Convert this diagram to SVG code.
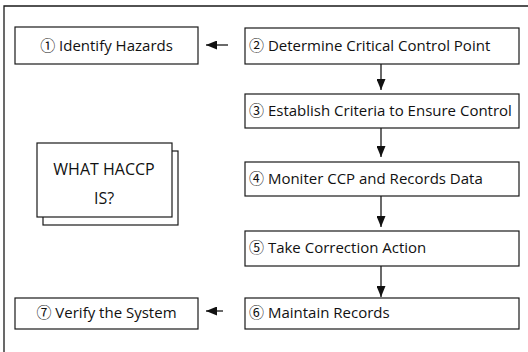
<svg xmlns="http://www.w3.org/2000/svg" width="528" height="352" viewBox="0 0 528 352">
<style>
.box{fill:#fff;stroke:#1a1a1a;stroke-width:1.2}
.t{font-family:"Open Sans","Noto Sans CJK JP",sans-serif;font-size:15px;fill:#111}
.c{text-anchor:middle}
.big{font-size:16px}
.ln{stroke:#1a1a1a;stroke-width:1.3;fill:none}
</style>
<defs>
<marker id="ah" viewBox="0 0 10 10" refX="10" refY="5" markerWidth="11" markerHeight="9" markerUnits="userSpaceOnUse" orient="auto" preserveAspectRatio="none">
<path d="M0,0 L10,5 L0,10 Z" fill="#111"/>
</marker>
</defs>
<rect width="528" height="352" fill="#fff"/>
<path class="ln" d="M4,352 V6 H528"/>
<g id="n1"><rect class="box" x="15" y="27" width="183" height="37"/><text class="t c" x="106.5" y="51">① Identify Hazards</text></g>
<g id="n2"><rect class="box" x="245" y="28" width="274" height="36"/><text class="t" x="249" y="51">② Determine Critical Control Point</text></g>
<g id="n3"><rect class="box" x="245" y="94" width="274" height="34"/><text class="t" x="249" y="116">③ Establish Criteria to Ensure Control</text></g>
<g id="n4"><rect class="box" x="245" y="162" width="274" height="34"/><text class="t" x="249" y="184">④ Moniter CCP and Records Data</text></g>
<g id="n5"><rect class="box" x="245" y="231" width="274" height="35"/><text class="t" x="249" y="253">⑤ Take Correction Action</text></g>
<g id="n6"><rect class="box" x="245" y="298" width="274" height="31"/><text class="t" x="249" y="318">⑥ Maintain Records</text></g>
<g id="n7"><rect class="box" x="15" y="298" width="183" height="31"/><text class="t c" x="106.5" y="318">⑦ Verify the System</text></g>
<g id="what">
<rect class="box" x="43" y="151" width="135" height="74"/>
<rect class="box" x="37" y="143" width="135" height="74"/>
<text class="t c big" x="104" y="175">WHAT HACCP</text>
<text class="t c big" x="104" y="204">IS?</text>
</g>
<g id="connectors">
<line class="ln" x1="228" y1="45" x2="206" y2="45" marker-end="url(#ah)"/>
<line class="ln" x1="381" y1="64" x2="381" y2="90" marker-end="url(#ah)"/>
<line class="ln" x1="381" y1="128" x2="381" y2="157" marker-end="url(#ah)"/>
<line class="ln" x1="381" y1="196" x2="381" y2="227" marker-end="url(#ah)"/>
<line class="ln" x1="381" y1="266" x2="381" y2="297" marker-end="url(#ah)"/>
<line class="ln" x1="223" y1="311" x2="206" y2="311" marker-end="url(#ah)"/>
</g>
</svg>
